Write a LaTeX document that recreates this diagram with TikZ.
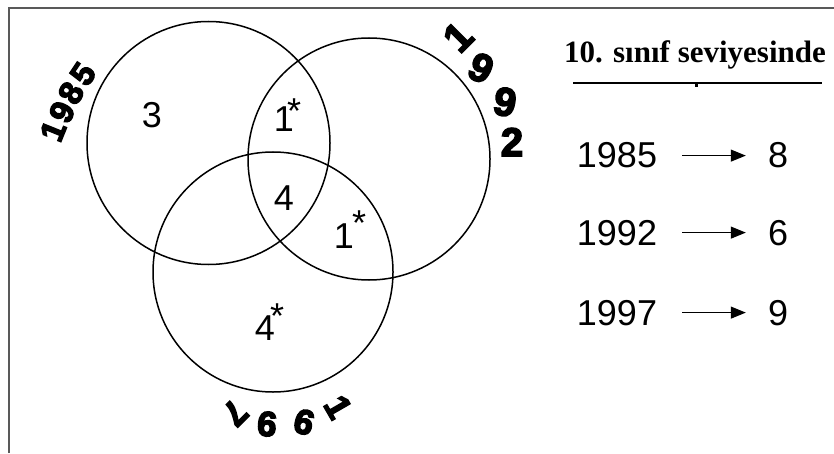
\documentclass[tikz,border=0pt]{standalone}
\usepackage{fontspec}
\setmainfont{Liberation Sans}
\newfontfamily\titlefont{Liberation Serif}
\newfontfamily\heavyfont[FakeBold=4]{Liberation Sans}
\usetikzlibrary{arrows.meta}
\newcommand\withstar[3]{#1\rlap{\kern#2\raisebox{#3}{\fontsize{36}{36}\selectfont *}}}
\begin{document}
\begin{tikzpicture}[x=1pt,y=1pt,
  venn/.style={draw=black, line width=1.5pt, circle, inner sep=0pt},
  num/.style={font=\fontsize{36}{36}\selectfont, inner sep=0pt, anchor=base},
  yr/.style={font=\heavyfont\bfseries\fontsize{#1}{#1}\selectfont, inner sep=0pt},
  arr/.style={-{Triangle[length=15pt,width=12pt]}, line width=1.1pt, shorten <=25pt, shorten >=22pt},
]
\useasboundingbox (0,0) rectangle (834,453);
\draw[line width=2pt, black!65] (9,0) -- (9,445) -- (834,445);

% circles
\node[venn, minimum size=243pt] (A) at (208.5,310) {};
\node[venn, minimum size=242pt] (B) at (369,294) {};
\node[venn, minimum size=240pt] (C) at (273,181) {};

% region numbers
\node[num] (n3)  at (152,325) {3};
\node[num] (n1a) at (284,321) {\withstar{1}{-7pt}{8pt}};
\node[num] (n4)  at (284,243) {4};
\node[num] (n1b) at (344,205) {\withstar{1}{-2pt}{12pt}};
\node[num] (n4s) at (265,113) {\withstar{4}{-5pt}{12pt}};

% curved year labels
\node[yr=33, rotate=68] (a1) at (53,322) {1};
\node[yr=33, rotate=64] (a2) at (62,341) {9};
\node[yr=33, rotate=60] (a3) at (71,360) {8};
\node[yr=33, rotate=56] (a4) at (83,379) {5};

\node[yr=40, rotate=45]  (b1) at (458,416) {1};
\node[yr=40, rotate=-25] (b2) at (481,385) {9};
\node[yr=40, rotate=-10] (b3) at (505,351) {9};
\node[yr=40, rotate=0]   (b4) at (512,311) {2};

\node[yr=35, rotate=-135] (c7) at (235,40) {7};
\node[yr=35, rotate=175]  (c9a) at (267,29) {9};
\node[yr=35, rotate=165]  (c9b) at (304,31) {9};
\node[yr=35, rotate=-60]  (c1) at (338,46) {1};

% title
\node[font=\titlefont\bfseries\fontsize{31}{31}\selectfont, anchor=base, inner sep=0pt] (title) at (695,390) {10. sınıf seviyesinde};
\draw[line width=1.2pt] (573,370) -- (822,370);
\fill (694.5,369) rectangle (697.5,366);

% list
\node[num] (y85) at (617,285) {1985};
\node[num] (v8)  at (778,285) {8};
\node[num] (y92) at (617,208) {1992};
\node[num] (v6)  at (778,208) {6};
\node[num] (y97) at (617,128) {1997};
\node[num] (v9)  at (778,128) {9};
\draw[arr] (y85) -- (v8);
\draw[arr] (y92) -- (v6);
\draw[arr] (y97) -- (v9);
\end{tikzpicture}
\end{document}
